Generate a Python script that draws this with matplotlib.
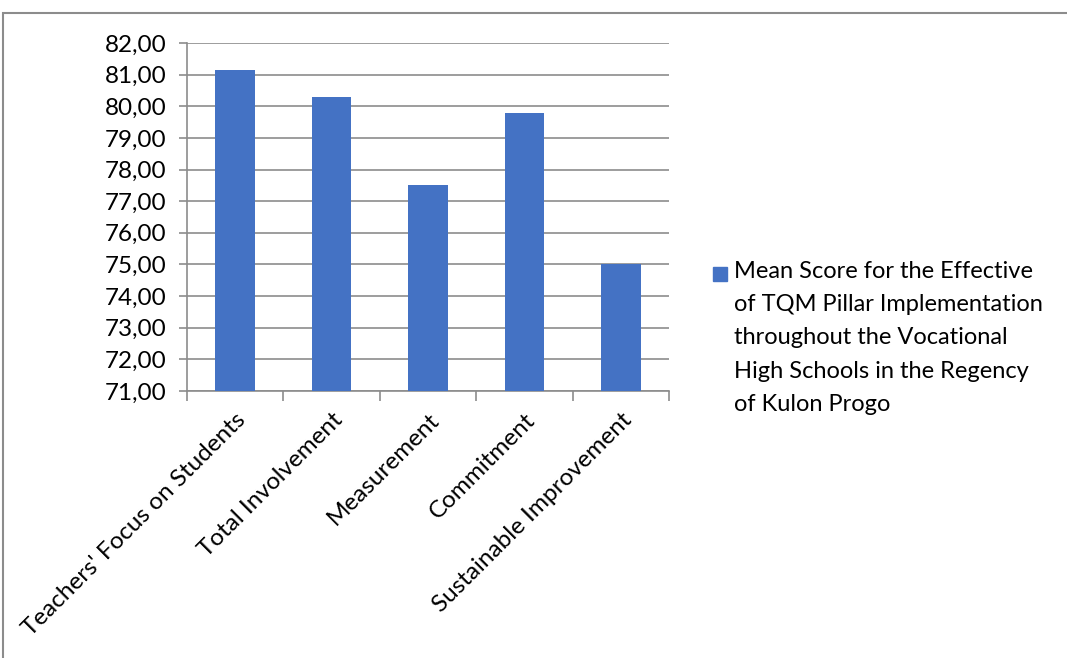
import numpy as np
import matplotlib.pyplot as plt
from matplotlib.patches import Rectangle

plt.rcParams['font.family'] = ['Lato', 'DejaVu Sans']

# дані
categories = ["Teachers' Focus on Students", "Total Involvement", "Measurement",
              "Commitment", "Sustainable Improvement"]
scores = [81.15, 80.29, 77.51, 79.78, 75.00]
series_name = ("Mean Score for the Effective\nof TQM Pillar Implementation\n"
               "throughout the Vocational\nHigh Schools in the Regency\nof Kulon Progo")
bar_color = '#4472C4'

fig = plt.figure(figsize=(10.67, 6.58), dpi=100)
ax = fig.add_axes([187 / 1067, 1 - 391 / 658, (669 - 187) / 1067, (391 - 43) / 658])

x = np.arange(len(categories))
ax.bar(x, np.array(scores) - 71, bottom=71, width=0.41, color=bar_color, zorder=3)

ax.set_ylim(71, 82)
ax.set_xlim(-0.5, len(categories) - 0.5)
ax.set_yticks(np.arange(71, 83, 1))
ax.set_yticklabels([f"{v:.2f}".replace('.', ',') for v in np.arange(71, 83, 1)],
                   fontsize=17.5)
ax.yaxis.grid(True, color='#8c8c8c', linewidth=1.2, zorder=0)

# мітки категорій
ax.set_xticks(x)
ax.set_xticklabels(categories, rotation=45, ha='right', rotation_mode='anchor',
                   fontsize=17.5)
ax.tick_params(axis='x', length=0, pad=13)
ax.set_xticks(np.arange(-0.5, len(categories)), minor=True)
ax.tick_params(axis='x', which='minor', length=7, color='#8c8c8c', width=1.2)
ax.tick_params(axis='y', length=6, color='#8c8c8c', width=1.2, pad=9)

for s in ['top', 'right']:
    ax.spines[s].set_visible(False)
for s in ['left', 'bottom']:
    ax.spines[s].set_color('#8c8c8c')
    ax.spines[s].set_linewidth(1.2)

# легенда
fig.patches.append(Rectangle((713 / 1067, 1 - 281 / 658), 14 / 1067, 14 / 658,
                             transform=fig.transFigure, color=bar_color))
fig.text(734 / 1067, 1 - 261 / 658, series_name, fontsize=17, va='top', ha='left',
         linespacing=1.72)

# рамка навколо діаграми
fig.patches.append(Rectangle((3 / 1067, -0.01), 1.1, 1 - 13 / 658 + 0.01,
                             transform=fig.transFigure, fill=False,
                             edgecolor='#8c8c8c', linewidth=1.5))

fig.savefig('out.png', dpi=100)
